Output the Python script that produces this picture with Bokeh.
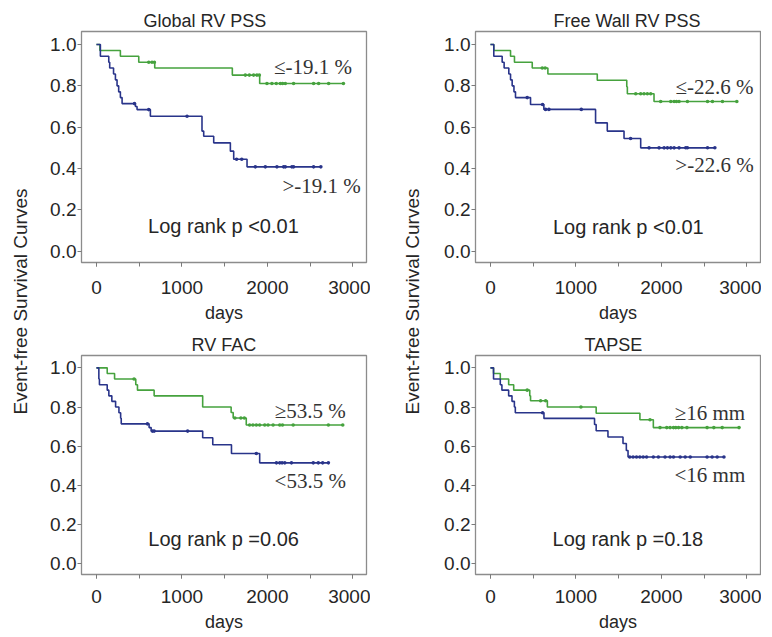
import numpy as np
from bokeh.plotting import figure
from bokeh.models import Range1d, FixedTicker, PrintfTickFormatter, Label
from bokeh.layouts import row, column
from bokeh.embed import file_html
from bokeh.resources import INLINE
from bokeh.core.properties import value

# ---------------- data ----------------
# Global RV PSS
GRV_LO_T = [0, 40, 280, 495, 682, 1590, 1910]
GRV_LO_S = [1.0, 0.971, 0.943, 0.914, 0.886, 0.852, 0.811]
GRV_LO_C = [612, 650, 678, 1742, 1789, 1839, 1878, 1906, 1995, 2053, 2104, 2151,
            2178, 2210, 2307, 2541, 2600, 2717, 2890]
GRV_HI_T = [0, 46, 144, 155, 200, 222, 241, 260, 280, 300, 456, 475, 631, 1235,
            1255, 1372, 1567, 1606, 1762]
GRV_HI_S = [1.0, 0.943, 0.914, 0.886, 0.857, 0.829, 0.800, 0.771, 0.743, 0.714,
            0.700, 0.685, 0.653, 0.581, 0.556, 0.524, 0.484, 0.445, 0.408]
GRV_HI_C = [445, 612, 1060, 1640, 1700, 1859, 1976, 2112, 2190, 2210, 2287, 2307,
            2541, 2626]

# Free Wall RV PSS
FW_LO_T = [0, 39, 235, 281, 489, 672, 1250, 1595, 1602, 1914]
FW_LO_S = [1.0, 0.971, 0.943, 0.914, 0.886, 0.857, 0.827, 0.795, 0.762, 0.724]
FW_LO_C = [606, 640, 1700, 1758, 1797, 1836, 1875, 1992, 2110, 2149, 2176, 2207,
           2305, 2540, 2598, 2715, 2883]
FW_HI_T = [0, 39, 137, 160, 215, 235, 254, 275, 293, 469, 625, 1230, 1367, 1563, 1758]
FW_HI_S = [1.0, 0.943, 0.914, 0.886, 0.857, 0.829, 0.800, 0.771, 0.743, 0.710,
           0.686, 0.621, 0.581, 0.545, 0.500]
FW_HI_C = [430, 610, 645, 684, 1063, 1640, 1856, 1973, 2032, 2071, 2110, 2149,
           2207, 2285, 2305, 2540, 2626]

# RV FAC
FAC_HI_T = [0, 126, 212, 460, 480, 675, 1243, 1576, 1600, 1753]
FAC_HI_S = [1.0, 0.971, 0.943, 0.914, 0.886, 0.857, 0.800, 0.772, 0.744, 0.708]
FAC_HI_C = [440, 1620, 1690, 1730, 1792, 1831, 1871, 1910, 1969, 2008, 2067, 2145,
            2177, 2302, 2714, 2882]
FAC_LO_T = [0, 28, 35, 126, 145, 180, 224, 263, 283, 290, 616, 640, 1243, 1361,
            1580, 1910]
FAC_LO_S = [1.0, 0.943, 0.914, 0.886, 0.857, 0.829, 0.800, 0.771, 0.743, 0.714,
            0.695, 0.677, 0.643, 0.607, 0.563, 0.515]
FAC_LO_C = [596, 655, 675, 1067, 1871, 2106, 2145, 2172, 2204, 2282, 2537, 2596,
            2647, 2714]

# TAPSE
TAP_HI_T = [0, 36, 115, 213, 272, 460, 469, 666, 1237, 1749, 1906]
TAP_HI_S = [1.0, 0.971, 0.943, 0.914, 0.886, 0.857, 0.832, 0.800, 0.768, 0.735, 0.695]
TAP_HI_C = [430, 587, 646, 1059, 1867, 1984, 2063, 2102, 2142, 2169, 2201, 2240,
            2299, 2535, 2614, 2712, 2909]
TAP_LO_T = [0, 36, 115, 134, 213, 252, 280, 291, 626, 1218, 1237, 1375, 1551,
            1590, 1610]
TAP_LO_S = [1.0, 0.943, 0.914, 0.886, 0.857, 0.829, 0.800, 0.771, 0.742, 0.711,
            0.679, 0.647, 0.614, 0.578, 0.545]
TAP_LO_C = [610, 1630, 1669, 1709, 1748, 1787, 1827, 1906, 1965, 2043, 2102, 2142,
            2220, 2279, 2338, 2535, 2594, 2653, 2732]

TITLES = ["Global RV PSS", "Free Wall RV PSS", "RV FAC", "TAPSE"]
LOGRANK = ["Log rank p <0.01", "Log rank p <0.01", "Log rank p =0.06", "Log rank p =0.18"]
GROUP_LABELS = [["≤-19.1 %", ">-19.1 %"], ["≤-22.6 %", ">-22.6 %"],
                ["≥53.5 %", "<53.5 %"], ["≥16 mm", "<16 mm"]]
X_TICKS = [0, 1000, 2000, 3000]
X_MINOR = [0, 500, 1000, 1500, 2000, 2500, 3000]
Y_TICKS = [0.0, 0.2, 0.4, 0.6, 0.8, 1.0]
Y_LABEL = "Event-free Survival Curves"
X_LABEL = "days"

GREEN = "#46a23e"
BLUE = "#29348a"
TXT = "#262626"
SANS = "Liberation Sans"
SERIF = "Liberation Serif"
Y0, Y1 = -0.055, 1.063


def km(p, t, s, cens, color):
    t = np.asarray(t, float)
    s = np.asarray(s, float)
    c = np.asarray(cens, float)
    xs = np.append(t, c.max())
    ys = np.append(s, s[-1])
    p.step(xs, ys, mode="after", line_color=color, line_width=1.6)
    idx = np.searchsorted(t, c, side="right") - 1
    p.scatter(c, s[idx], size=3.6, marker="circle", color=color, line_width=0)


def panel(i, curves, lab_pos, lr_pos, t_off, lb, rb, tb, bb, fw, fh, xs_off, xl_off):
    p = figure(width=lb + fw + rb, height=tb + fh + bb,
               x_range=Range1d(-175, 3160), y_range=Range1d(Y0, Y1),
               output_backend="svg", toolbar_location=None, tools="",
               min_border_left=lb, min_border_right=rb,
               min_border_top=tb, min_border_bottom=bb)
    p.title.text = TITLES[i]
    p.title.text_font = SANS
    p.title.text_font_size = "18px"
    p.title.text_font_style = "normal"
    p.title.text_color = TXT
    p.title.align = "left"
    p.title.offset = t_off
    p.title.standoff = 1
    p.grid.visible = False
    p.outline_line_color = "#8c8c8c"
    p.outline_line_width = 1.3
    p.background_fill_color = "white"
    p.border_fill_color = "white"

    for ax in (p.xaxis[0], p.yaxis[0]):
        ax.axis_line_color = None
        ax.major_tick_line_color = "#7a7a7a"
        ax.minor_tick_line_color = "#7a7a7a"
        ax.major_tick_in = 0
        ax.major_tick_out = 4
        ax.major_label_text_font = SANS
        ax.major_label_text_font_size = "19px"
        ax.major_label_text_color = TXT
    p.xaxis.ticker = FixedTicker(ticks=X_TICKS, minor_ticks=X_MINOR)
    p.xaxis.minor_tick_in = 0
    p.xaxis.minor_tick_out = 4
    p.xaxis.major_label_standoff = xs_off
    p.xaxis.axis_label = X_LABEL
    p.xaxis.axis_label_text_font = SANS
    p.xaxis.axis_label_text_font_size = "18px"
    p.xaxis.axis_label_text_font_style = "normal"
    p.xaxis.axis_label_text_color = TXT
    p.xaxis.axis_label_standoff = xl_off
    p.yaxis.ticker = FixedTicker(ticks=Y_TICKS, minor_ticks=[])
    p.yaxis.formatter = PrintfTickFormatter(format="%.1f")
    p.yaxis.major_label_standoff = 1

    (t1, s1, c1), (t2, s2, c2) = curves
    km(p, t1, s1, c1, GREEN)
    km(p, t2, s2, c2, BLUE)

    p.text(x=[lab_pos[0][0], lab_pos[1][0]], y=[lab_pos[0][1], lab_pos[1][1]],
           text=GROUP_LABELS[i], text_font=value(SERIF), text_font_size="21px",
           text_align="center", text_baseline="middle", text_color="#333333")
    p.text(x=[lr_pos[0]], y=[lr_pos[1]], text=[LOGRANK[i]], text_font=value(SANS),
           text_font_size="20px", text_align="center", text_baseline="middle",
           text_color=TXT)
    return p


def label_fig(w, h, cx, cy):
    f = figure(width=w, height=h, x_range=Range1d(0, w), y_range=Range1d(0, h),
               output_backend="svg", toolbar_location=None, tools="",
               min_border=0, x_axis_type=None, y_axis_type=None)
    f.outline_line_color = None
    f.grid.visible = False
    f.add_layout(Label(x=cx, y=h - cy, text=Y_LABEL, angle=np.pi / 2,
                       text_align="center", text_baseline="middle",
                       text_font=SANS, text_font_size="19px", text_color=TXT))
    return f


p1 = panel(0, [(GRV_LO_T, GRV_LO_S, GRV_LO_C), (GRV_HI_T, GRV_HI_S, GRV_HI_C)],
           [(2535, 0.889), (2634, 0.316)], (1486, 0.12), 62,
           47, 4, 31, 64, 285, 231, 14, 6)
p3 = panel(2, [(FAC_HI_T, FAC_HI_S, FAC_HI_C), (FAC_LO_T, FAC_LO_S, FAC_LO_C)],
           [(2502, 0.780), (2502, 0.422)], (1488, 0.124), 110,
           47, 4, 29, 50, 285, 229, 11, 6)
p2 = panel(1, [(FW_LO_T, FW_LO_S, FW_LO_C), (FW_HI_T, FW_HI_S, FW_HI_C)],
           [(2622, 0.795), (2622, 0.419)], (1613, 0.115), 78,
           49, 1, 31, 64, 285, 231, 14, 6)
p4 = panel(3, [(TAP_HI_T, TAP_HI_S, TAP_HI_C), (TAP_LO_T, TAP_LO_S, TAP_LO_C)],
           [(2568, 0.769), (2568, 0.455)], (1608, 0.124), 109,
           49, 1, 29, 50, 285, 229, 11, 6)

H_TOTAL = p1.height + p3.height
l1 = label_fig(34, H_TOTAL, 20, 301)
l2 = label_fig(56, H_TOTAL, 42, 301)

layout = row(l1, column(p1, p3), l2, column(p2, p4))
open("out.html", "w").write(file_html(layout, INLINE))
